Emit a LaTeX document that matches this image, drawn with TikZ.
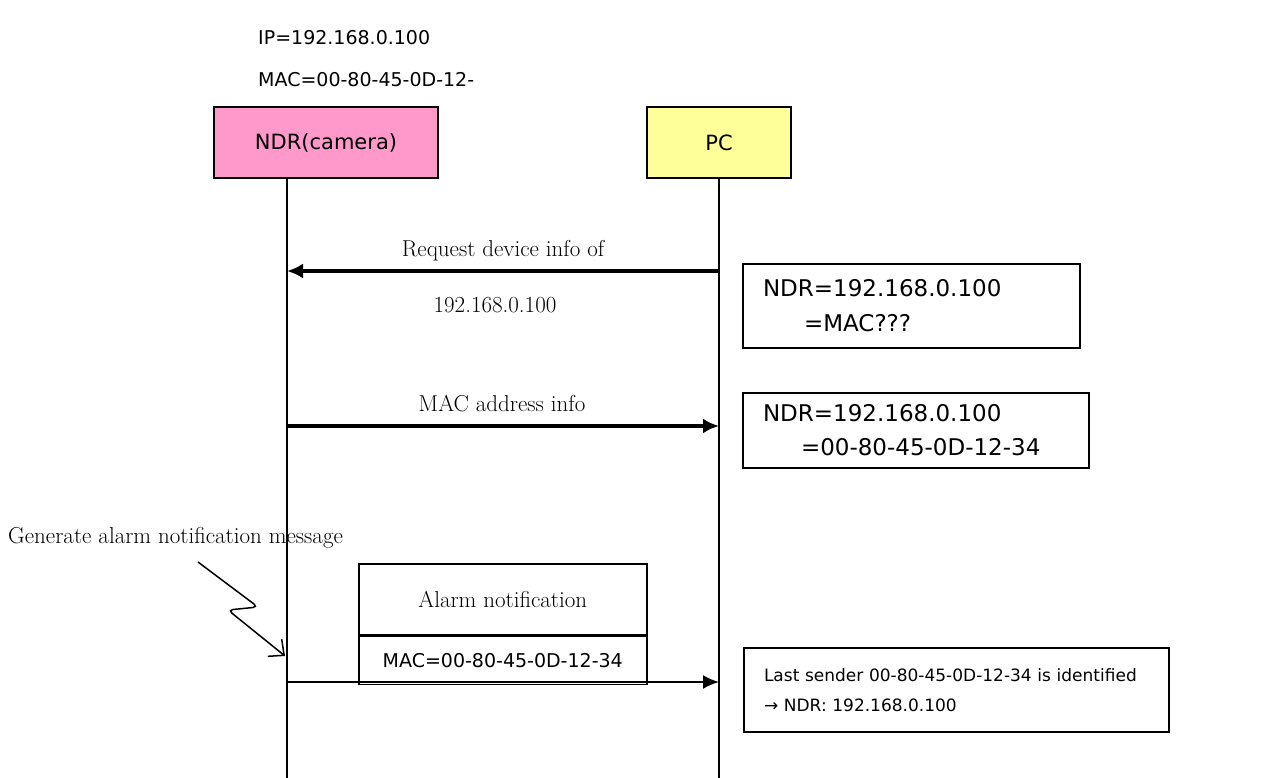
\documentclass[tikz,border=0pt]{standalone}
\usepackage{fontspec}
\newfontfamily\tahoma{DejaVu Sans}
\usetikzlibrary{arrows.meta}
\definecolor{ndrpink}{HTML}{FF99CC}
\definecolor{pcyellow}{HTML}{FFFF99}

\begin{document}
\begin{tikzpicture}[x=1pt,y=-1pt,
    actor/.style={draw, line width=2pt, minimum height=71pt, font=\tahoma\fontsize{21}{25}\selectfont},
    sanstext/.style={inner sep=0pt, font=\tahoma\fontsize{19}{25}\selectfont},
    seriftext/.style={inner sep=0pt, font=\fontsize{23}{27}\selectfont},
    infobox/.style={draw, line width=2pt, anchor=north west, align=left, inner xsep=20pt, inner ysep=0pt},
    msg/.style={line width=4pt, -{Latex[length=16pt,width=15pt]}}]
    \useasboundingbox (0,0) rectangle (1281,778);

    % header
    \node[sanstext, anchor=west] (ip) at (258,38) {IP=192.168.0.100};
    \node[sanstext, anchor=west] (mac) at (258,80) {MAC=00-80-45-0D-12-};

    % actors and lifelines
    \node[actor, fill=ndrpink, minimum width=224pt] (ndr) at (326,142.5) {NDR(camera)};
    \node[actor, fill=pcyellow, minimum width=144pt] (pc) at (719,142.5) {PC};
    \coordinate (ndrend) at (287,778);
    \coordinate (pcend) at (719,778);
    \draw[line width=2pt] (ndrend |- ndr.south) -- (ndrend);
    \draw[line width=2pt] (pc.south) -- (pcend);

    % request
    \coordinate (reqpc) at (719,271);
    \coordinate (reqndr) at (287,271);
    \draw[msg] (reqpc) -- (reqndr);
    \node[seriftext] (reqlabel) at (503,251) {Request device info of};
    \node[seriftext] (reqip) at (495,305) {192.168.0.100};
    \node[infobox, text width=297pt, minimum height=84pt, font=\tahoma\fontsize{23}{35}\selectfont] (ask) at (742,263)
        {NDR=192.168.0.100\\\hspace*{41pt}=MAC???};

    % reply
    \coordinate (repndr) at (287,426);
    \coordinate (reppc) at (719,426);
    \draw[msg] (repndr) -- (reppc);
    \node[seriftext] (replabel) at (502,404) {MAC address info};
    \node[infobox, text width=306pt, minimum height=75pt, font=\tahoma\fontsize{23}{34}\selectfont] (known) at (742,392)
        {NDR=192.168.0.100\\\hspace*{38pt}=00-80-45-0D-12-34};

    % alarm
    \node[seriftext, anchor=west] (gen) at (8,538) {Generate alarm notification message};
    \coordinate (zzend) at (285,656);
    \draw[line width=1.5pt, rounded corners=5pt, -{Straight Barb[length=12pt,width=22pt]}]
        (198,562) -- (258,607) -- (228,610) -- (zzend);
    \node[draw, line width=1.5pt, anchor=north west, minimum width=288pt, minimum height=71pt,
        font=\fontsize{23}{27}\selectfont] (alarm) at (358,563) {Alarm notification};
    \node[draw, line width=1.5pt, anchor=north, minimum width=288pt, minimum height=48pt,
        font=\tahoma\fontsize{19}{25}\selectfont] (alarmmac) at (alarm.south) {MAC=00-80-45-0D-12-34};
    \coordinate (alndr) at (287,682);
    \coordinate (alpc) at (719,682);
    \draw[line width=2pt, -{Latex[length=16pt,width=14pt]}] (alndr) -- (alpc);
    \node[infobox, text width=385pt, minimum height=84pt, font=\tahoma\fontsize{17}{30}\selectfont] (sender) at (743,647)
        {Last sender 00-80-45-0D-12-34 is identified\\→ NDR: 192.168.0.100};
\end{tikzpicture}
\end{document}
